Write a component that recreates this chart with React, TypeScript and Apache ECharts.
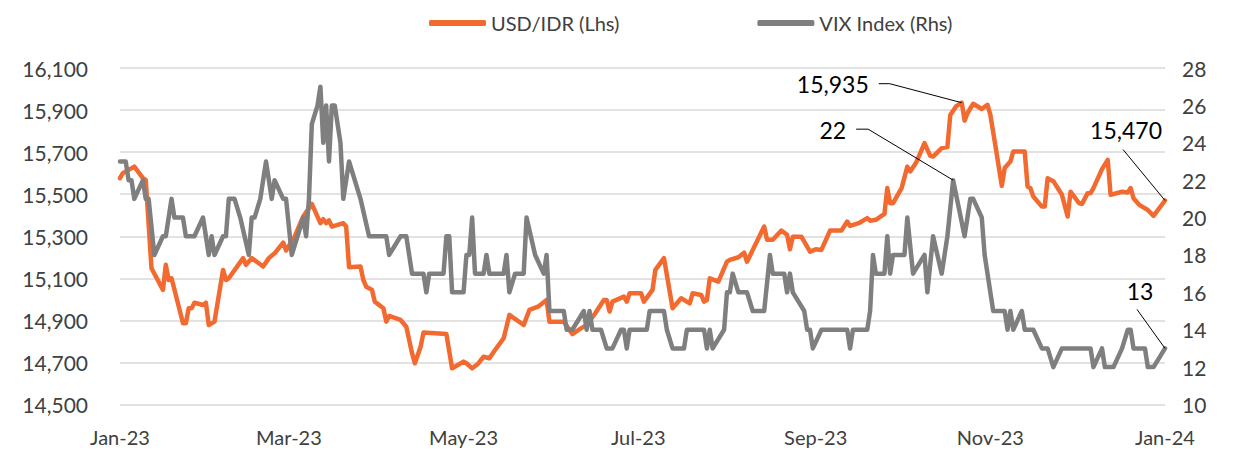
import React, { useEffect, useRef } from "react";
import * as echarts from "echarts";

// x positions are days since 1 Jan 2023
const xTickDays = [0, 59, 120, 181, 243, 304, 365];
const xTickLabels = ["Jan-23", "Mar-23", "May-23", "Jul-23", "Sep-23", "Nov-23", "Jan-24"];

const idrDays = [0,1,5,8,9,11,15,16,17,18,22,23,24,25,26,29,30,31,33,36,37,38,43,44,46,50,52,54,57,58,61,64,67,70,71,72,73,74,78,79,80,84,85,86,88,89,92,93,94,98,100,102,103,105,106,114,116,118,120,121,123,125,127,129,131,134,135,136,141,143,146,149,150,155,158,161,163,166,169,170,171,172,176,177,178,182,183,186,187,190,193,196,199,200,203,204,205,206,209,212,213,216,218,219,225,226,228,231,233,234,235,238,241,243,245,248,252,254,255,258,261,262,264,267,268,269,270,273,275,276,278,281,283,284,287,289,290,292,294,295,296,298,301,303,304,306,308,309,311,312,316,317,318,319,322,323,324,326,329,331,332,335,336,338,339,340,343,345,346,349,350,352,353,354,356,359,361,365];
const idrValues = [15576,15600,15631,15576,15568,15148,15045,15164,15092,15100,14886,14886,14958,14958,14984,14973,14984,14878,14894,15140,15092,15100,15196,15164,15196,15156,15196,15219,15270,15232,15298,15394,15454,15362,15381,15362,15375,15346,15362,15346,15153,15156,15092,15060,15045,14989,14958,14894,14921,14902,14870,14744,14696,14775,14842,14835,14672,14688,14704,14696,14672,14693,14727,14720,14759,14815,14870,14926,14878,14950,14965,14997,14894,14894,14835,14862,14878,14934,14997,14997,14942,14989,15013,14989,15029,15029,14989,15045,15140,15196,14958,15005,14981,15029,15021,14989,14997,15100,15084,15179,15188,15200,15222,15179,15346,15283,15283,15327,15307,15238,15298,15298,15227,15238,15235,15327,15327,15370,15349,15362,15386,15374,15378,15406,15529,15457,15457,15529,15631,15608,15648,15743,15682,15679,15719,15724,15877,15917,15935,15850,15885,15930,15905,15925,15877,15711,15540,15624,15655,15703,15703,15536,15528,15489,15441,15441,15576,15562,15497,15394,15512,15457,15454,15505,15505,15529,15619,15663,15497,15508,15512,15508,15529,15481,15449,15425,15397,15470];

const vixDays = [0,2,3,4,5,8,9,10,12,15,16,18,19,22,23,26,29,31,32,33,36,37,38,40,42,45,46,47,49,51,53,54,57,58,60,62,64,65,66,67,69,70,71,72,73,74,75,77,78,80,82,84,87,93,94,98,100,102,106,107,108,113,114,115,116,120,121,122,123,124,127,128,129,134,135,136,138,141,142,145,148,149,150,155,156,158,162,163,164,165,168,170,172,175,176,177,178,184,185,190,191,193,197,198,204,205,206,207,211,212,213,214,216,219,221,225,227,228,232,233,234,235,239,240,241,242,245,254,255,256,261,262,263,264,267,268,269,270,274,275,277,281,282,284,287,289,291,295,297,298,301,302,305,309,310,311,312,315,316,319,322,324,326,329,339,340,343,344,347,350,352,353,354,358,359,361,365];
const vixValues = [23,23,22,22,21,22,21,21,18,19,19,21,20,20,19,19,20,18,19,18,19,19,21,21,20,18,20,20,21,23,21,22,21,21,18,19,20,19,21,25,26,27,24,26,23,26,26,24,21,23,22,21,19,19,18,19,19,17,17,16,17,17,19,19,16,16,18,18,20,17,17,18,17,17,18,16,17,17,20,18,17,18,15,15,14,14,15,14,15,14,14,13,13,14,14,13,14,14,15,15,14,13,13,14,14,13,14,13,14,16,16,17,16,16,15,15,18,17,17,16,17,16,15,14,14,13,14,14,13,14,14,15,18,17,17,19,17,18,18,20,17,18,16,19,17,19,22,19,21,21,20,18,15,15,14,15,14,15,14,14,13,13,12,13,13,12,13,12,12,13,14,14,13,13,12,12,13];

const seriesNames = ["USD/IDR (Lhs)", "VIX Index (Rhs)"];
const ORANGE = "#F26A30";
const GREY = "#7F7F7F";
const FONT = "Lato, 'Noto Sans', sans-serif";

export default function App() {
  const ref = useRef<HTMLDivElement>(null);
  useEffect(() => {
    if (!ref.current) return;
    const chart = echarts.init(ref.current, undefined, { renderer: "svg" });
    chart.setOption({
      animation: false,
      backgroundColor: "#fff",
      textStyle: { fontFamily: FONT },
      legend: {
        left: 424,
        top: 8,
        itemWidth: 57,
        itemHeight: 6,
        itemGap: 138,
        icon: "roundRect",
        textStyle: { fontSize: 20, color: "#404040", fontFamily: FONT },
        data: seriesNames,
      },
      grid: { left: 120, right: 76, top: 68, bottom: 48.5, containLabel: false },
      xAxis: {
        type: "value",
        min: xTickDays[0],
        max: xTickDays[xTickDays.length - 1],
        axisLine: { show: false },
        axisTick: { show: false },
        splitLine: { show: false },
        axisLabel: {
          customValues: xTickDays,
          margin: 22,
          fontSize: 20,
          color: "#404040",
          fontFamily: FONT,
          formatter: (v: number) => {
            let best = 0;
            for (let i = 0; i < xTickDays.length; i++) {
              if (Math.abs(xTickDays[i] - v) < Math.abs(xTickDays[best] - v)) best = i;
            }
            return xTickLabels[best];
          },
        },
      },
      yAxis: [
        {
          type: "value",
          position: "left",
          min: 14500,
          max: 16100,
          interval: 200,
          axisLine: { show: false },
          axisTick: { show: false },
          splitLine: { show: true, lineStyle: { color: "#D9D9D9", width: 1.5 } },
          axisLabel: {
            margin: 32,
            fontSize: 21,
            color: "#404040",
            fontFamily: FONT,
            formatter: (v: number) => v.toLocaleString("en-US"),
          },
        },
        {
          type: "value",
          position: "right",
          min: 10,
          max: 28,
          interval: 2,
          axisLine: { show: false },
          axisTick: { show: false },
          splitLine: { show: false },
          axisLabel: {
            margin: 17,
            fontSize: 21,
            color: "#404040",
            fontFamily: FONT,
          },
        },
      ],
      series: [
        {
          name: seriesNames[0],
          type: "line",
          yAxisIndex: 0,
          showSymbol: false,
          symbol: "none",
          color: ORANGE,
          lineStyle: { color: ORANGE, width: 4.5, cap: "round", join: "round" },
          data: idrDays.map((d, i) => [d, idrValues[i]]),
        },
        {
          name: seriesNames[1],
          type: "line",
          yAxisIndex: 1,
          showSymbol: false,
          symbol: "none",
          color: GREY,
          lineStyle: { color: GREY, width: 4.5, cap: "round", join: "round" },
          data: vixDays.map((d, i) => [d, vixValues[i]]),
        },
      ],
    });

    // annotations anchored on data points
    let iPeak = 0;
    idrValues.forEach((v, i) => { if (v > idrValues[iPeak]) iPeak = i; });
    let iVix = -1;
    vixValues.forEach((v, i) => {
      if (vixDays[i] >= 182 && (iVix < 0 || v > vixValues[iVix])) iVix = i;
    });
    const nI = idrValues.length - 1;
    const nV = vixValues.length - 1;
    const px = (s: number, d: number, v: number) =>
      chart.convertToPixel({ seriesIndex: s }, [d, v]) as number[];
    const a1 = px(0, idrDays[iPeak], idrValues[iPeak]);
    const a2 = px(1, vixDays[iVix], vixValues[iVix]);
    const a3 = px(0, idrDays[nI], idrValues[nI]);
    const a4 = px(1, vixDays[nV], vixValues[nV]);
    const lineStyle = { stroke: "#000", lineWidth: 1, fill: null };
    const txt = (x: number, y: number, text: string, align: string) => ({
      type: "text",
      x, y,
      z: 100,
      style: { text, fill: "#000", font: `23px ${FONT}`, align, verticalAlign: "middle" },
    });
    const fmt = (v: number) => v.toLocaleString("en-US");
    chart.setOption({
      graphic: [
        { type: "polyline", z: 100, shape: { points: [[a1[0] - 83, a1[1] - 19], [a1[0] - 72, a1[1] - 19], [a1[0], a1[1]]] }, style: lineStyle },
        txt(a1[0] - 93, a1[1] - 19, fmt(idrValues[iPeak]), "right"),
        { type: "polyline", z: 100, shape: { points: [[a2[0] - 97, a2[1] - 51], [a2[0] - 85, a2[1] - 51], [a2[0], a2[1]]] }, style: lineStyle },
        txt(a2[0] - 107, a2[1] - 50, String(vixValues[iVix]), "right"),
        { type: "line", z: 100, shape: { x1: a3[0] - 42, y1: a3[1] - 51, x2: a3[0], y2: a3[1] }, style: lineStyle },
        txt(a3[0] - 39, a3[1] - 70, fmt(idrValues[nI]), "center"),
        { type: "line", z: 100, shape: { x1: a4[0] - 28, y1: a4[1] - 39, x2: a4[0], y2: a4[1] }, style: lineStyle },
        txt(a4[0] - 25, a4[1] - 57, String(vixValues[nV]), "center"),
      ],
    });
    return () => chart.dispose();
  }, []);
  return (
    <div
      ref={ref}
      style={{ position: "fixed", left: 0, top: 0, width: 1241, height: 453, background: "#fff" }}
    />
  );
}
